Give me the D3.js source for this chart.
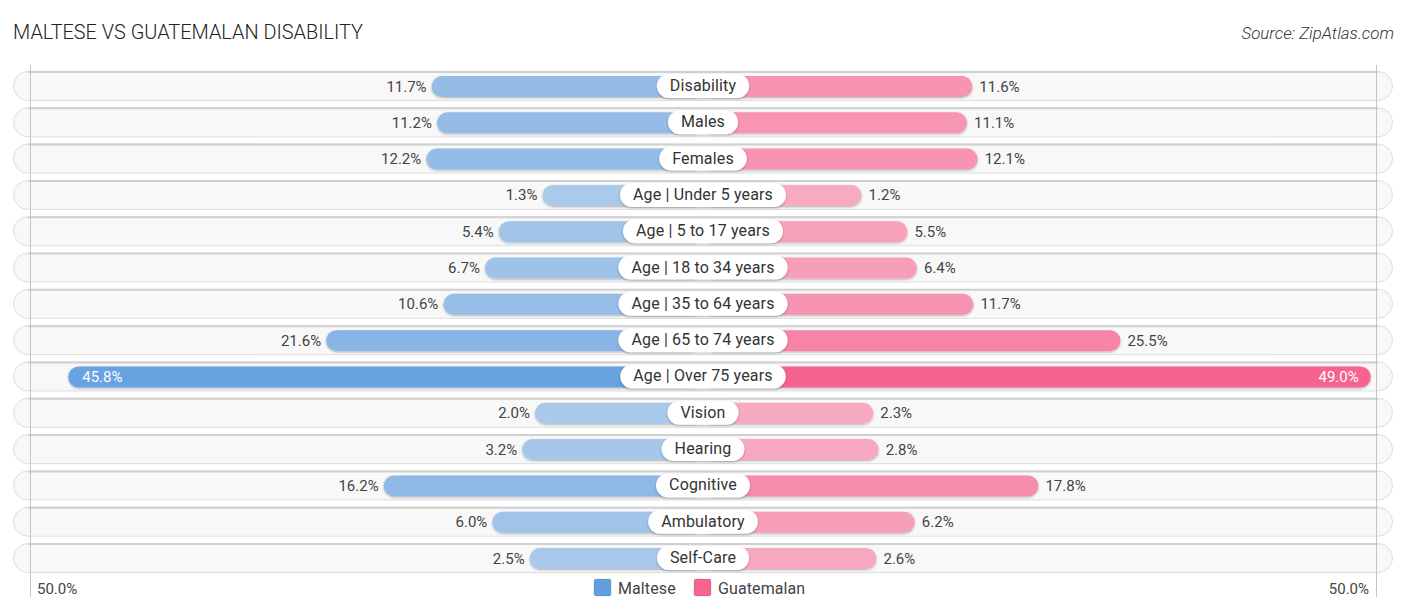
<!DOCTYPE html>
<html>
<head>
<meta charset="utf-8">
<script src="https://cdn.jsdelivr.net/npm/d3@7"></script>
<style>
  html, body { margin: 0; padding: 0; background: #fff; }
  text { font-family: Roboto, sans-serif; }
</style>
</head>
<body>
<div id="vis-container"></div>
<script>
const categories = ["Disability", "Males", "Females", "Age | Under 5 years", "Age | 5 to 17 years", "Age | 18 to 34 years", "Age | 35 to 64 years", "Age | 65 to 74 years", "Age | Over 75 years", "Vision", "Hearing", "Cognitive", "Ambulatory", "Self-Care"];
const maltese = [11.7, 11.2, 12.2, 1.3, 5.4, 6.7, 10.6, 21.6, 45.8, 2.0, 3.2, 16.2, 6.0, 2.5];
const guatemalan = [11.6, 11.1, 12.1, 1.2, 5.5, 6.4, 11.7, 25.5, 49.0, 2.3, 2.8, 17.8, 6.2, 2.6];
const seriesNames = ["Maltese", "Guatemalan"];
const seriesColors = ["#639fdf", "#f6648f"];
const axisLabel = "50.0%";

const width = 1406;
const height = 612;

const svg = d3.select("#vis-container").append("svg").attr("width", width).attr("height", height).style("display", "block");
const defs = svg.append("defs");

const barShadow = defs.append("filter").attr("id", "bar-shadow").attr("x", "-5%").attr("y", "-30%").attr("width", "110%").attr("height", "170%");
barShadow.append("feDropShadow").attr("dx", 0).attr("dy", 1).attr("stdDeviation", 0.8).attr("flood-color", "#000").attr("flood-opacity", 0.3);

const pillShadow = defs.append("filter").attr("id", "pill-shadow").attr("x", "-10%").attr("y", "-30%").attr("width", "120%").attr("height", "170%");
pillShadow.append("feDropShadow").attr("dx", 0).attr("dy", 1).attr("stdDeviation", 1.2).attr("flood-color", "#000").attr("flood-opacity", 0.3);

// Escalas
const trackH = 30;
const barH = 21;
const rowStep = 36.31;
const yScale = d3.scalePoint().domain(categories).range([71, 71 + rowStep * (categories.length - 1)]);
const xLeft = d3.scaleLinear().domain([0, 50]).range([556.3, 23.5]);
const xRight = d3.scaleLinear().domain([0, 50]).range([848.8, 1381.4]);
const strength = d3.scaleLinear().domain([0, 10, 25, 49]).range([0.5, 0.66, 0.78, 1]);
const barColor = (i, v) => d3.interpolateRgb("#f8f8f8", seriesColors[i])(strength(v));

// Titulo
svg.append("text").attr("x", 13).attr("y", 39).attr("font-family", "Inter, sans-serif").attr("font-size", 19.9).attr("font-weight", 300).attr("fill", "#222").text("MALTESE VS GUATEMALAN DISABILITY");
svg.append("text").attr("x", 1394).attr("y", 38.5).attr("text-anchor", "end").attr("font-family", "Inter, sans-serif").attr("font-size", 16.9).attr("font-weight", 300).attr("font-style", "italic").attr("fill", "#333").text("Source: ZipAtlas.com");

// Fundo das linhas
svg.selectAll(".track").data(categories).enter().append("rect")
  .attr("class", "track")
  .attr("x", 13.5).attr("y", (d) => yScale(d) + 0.5)
  .attr("width", 1379).attr("height", trackH - 1)
  .attr("rx", 14.5)
  .attr("fill", "#f8f8f8").attr("stroke", "#dedede").attr("stroke-width", 1);
svg.selectAll(".track-top").data(categories).enter().append("line")
  .attr("class", "track-top")
  .attr("x1", 28).attr("x2", 1378)
  .attr("y1", (d) => yScale(d) + 1).attr("y2", (d) => yScale(d) + 1)
  .attr("stroke", "#d0d0d0").attr("stroke-width", 2);

// Linhas verticais
[30.5, 1376.5].forEach((x) => {
  svg.append("line").attr("x1", x).attr("x2", x).attr("y1", 65).attr("y2", 597).attr("stroke", "#c4c4c4").attr("stroke-width", 1);
});

// Barras
svg.selectAll(".bar-left").data(categories).enter().append("rect")
  .attr("class", "bar-left")
  .attr("x", (d, i) => xLeft(maltese[i]))
  .attr("y", (d) => yScale(d) + 5)
  .attr("width", (d, i) => 703 - xLeft(maltese[i]))
  .attr("height", barH).attr("rx", barH / 2)
  .attr("fill", (d, i) => barColor(0, maltese[i]))
  .attr("filter", "url(#bar-shadow)");

svg.selectAll(".bar-right").data(categories).enter().append("rect")
  .attr("class", "bar-right")
  .attr("x", 703)
  .attr("y", (d) => yScale(d) + 5)
  .attr("width", (d, i) => xRight(guatemalan[i]) - 703)
  .attr("height", barH).attr("rx", barH / 2)
  .attr("fill", (d, i) => barColor(1, guatemalan[i]))
  .attr("filter", "url(#bar-shadow)");

// Valores
const insideLimit = 40;
svg.selectAll(".val-left").data(categories).enter().append("text")
  .attr("class", "val-left")
  .attr("x", (d, i) => maltese[i] > insideLimit ? xLeft(maltese[i]) + 14 : xLeft(maltese[i]) - 5)
  .attr("y", (d) => yScale(d) + 20.5)
  .attr("text-anchor", (d, i) => maltese[i] > insideLimit ? "start" : "end")
  .attr("font-size", 15)
  .attr("fill", (d, i) => maltese[i] > insideLimit ? "#fff" : "#444")
  .text((d, i) => maltese[i].toFixed(1) + "%");

svg.selectAll(".val-right").data(categories).enter().append("text")
  .attr("class", "val-right")
  .attr("x", (d, i) => guatemalan[i] > insideLimit ? xRight(guatemalan[i]) - 12 : xRight(guatemalan[i]) + 7)
  .attr("y", (d) => yScale(d) + 20.5)
  .attr("text-anchor", (d, i) => guatemalan[i] > insideLimit ? "end" : "start")
  .attr("font-size", 15)
  .attr("fill", (d, i) => guatemalan[i] > insideLimit ? "#fff" : "#444")
  .text((d, i) => guatemalan[i].toFixed(1) + "%");

// Etiquetas centrais
const labels = svg.selectAll(".label").data(categories).enter().append("g").attr("class", "label");
labels.each(function (d) {
  const g = d3.select(this);
  const t = g.append("text")
    .attr("x", 703).attr("y", yScale(d) + 20)
    .attr("text-anchor", "middle").attr("font-size", 16).attr("letter-spacing", 0.15).attr("fill", "#333").text(d);
  const w = t.node().getComputedTextLength() + 26;
  g.insert("rect", "text")
    .attr("x", 703 - w / 2).attr("y", yScale(d) + 3)
    .attr("width", w).attr("height", 24).attr("rx", 12)
    .attr("fill", "#fff").attr("filter", "url(#pill-shadow)");
});

// Eixo
svg.append("text").attr("x", 37).attr("y", 594).attr("font-size", 15).attr("fill", "#444").text(axisLabel);
svg.append("text").attr("x", 1369).attr("y", 594).attr("text-anchor", "end").attr("font-size", 15).attr("fill", "#444").text(axisLabel);

// Legenda
const legendX = [594, 694];
seriesNames.forEach((name, i) => {
  svg.append("rect").attr("x", legendX[i]).attr("y", 579).attr("width", 17).attr("height", 17).attr("rx", 2)
    .attr("fill", seriesColors[i]).attr("stroke", "#000").attr("stroke-opacity", 0.12);
  svg.append("text").attr("x", legendX[i] + 24).attr("y", 594).attr("font-size", 16).attr("letter-spacing", 0.1).attr("fill", "#444").text(name);
});
</script>
</body>
</html>
